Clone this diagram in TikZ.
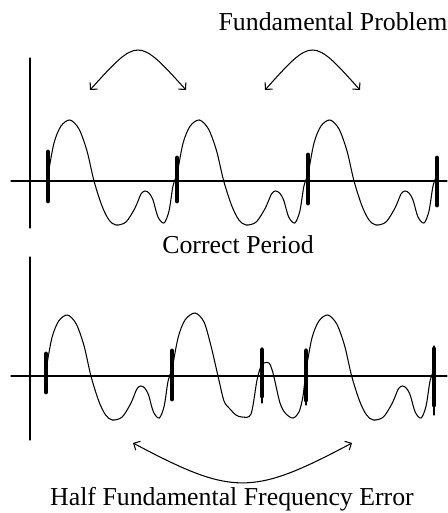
\documentclass[tikz,border=0pt]{standalone}
\usepackage{fontspec}
\setmainfont{Liberation Serif}
\usetikzlibrary{arrows.meta}
\tikzset{>={Straight Barb[length=1mm,width=2mm]}}
\tikzset{
  Axis/.style={line width=0.6pt},
  Wave/.style={line width=0.6pt},
  PitchMark/.style={line width=2.8pt},
  Stem/.style={line width=0.6pt},
  Span/.style={line width=0.6pt, <->},
  Caption/.style={font=\fontsize{14.7}{17}\selectfont, inner sep=0pt, anchor=base}
}

\begin{document}
\begin{tikzpicture}[x=0.02cm, y=-0.02cm, line cap=round]
  \useasboundingbox (0,0) rectangle (447,513);
  \def\TopAxis{181}
  \def\LowAxis{376}

  % axes
  \draw[Axis] (30,58) -- (30,228);
  \draw[Axis] (11,\TopAxis) -- (447,\TopAxis);
  \draw[Axis] (30,257) -- (30,440);
  \draw[Axis] (11,\LowAxis) -- (447,\LowAxis);

  % waveform, one period at a time (start/axis/length)
  \foreach \xo/\yo/\per in {48/\TopAxis/129, 177/\TopAxis/131, 308/\TopAxis/129,
                            46/\LowAxis/126, 306/\LowAxis/128}
    \draw[Wave, shift={(\xo,\yo)}, xscale=\per/129] plot[smooth, tension=0.5] coordinates {
      (0,-6) (6,-38) (13,-55) (22,-61) (31,-52) (39,-30) (46,0) (54,25) (61,39) (68,44)
      (78,41) (87,27) (93,13) (97,10) (101,12) (105,19) (110,36) (116,42) (121,30)
      (125,5) (129,-6)};
  \draw[Wave, shift={(172,\LowAxis)}] plot[smooth, tension=0.5] coordinates {
      (0,-6) (6,-38) (13,-56) (23,-63) (32,-54) (39,-30) (46,0) (52,25) (58,33) (64,39)
      (70,41) (79,38) (85,4) (89,-10) (92,-13) (97,-13) (101,-3) (108,27) (114,38)
      (121,42) (127,36) (131,20) (134,-6)};

  % pitch marks
  \draw[PitchMark] (48,152) -- (48,201);
  \draw[PitchMark] (177,158) -- (177,201);
  \draw[PitchMark] (308,155) -- (308,203);
  \draw[PitchMark] (437,158) -- (437,205);

  \draw[Stem] (262,348) -- (262,403);
  \draw[Stem] (306,349) -- (306,405);
  \draw[Stem] (434,346) -- (434,415);
  \draw[PitchMark] (46,354) -- (46,392);
  \draw[PitchMark] (172,351) -- (172,399);
  \draw[PitchMark] (262,350) -- (262,396);
  \draw[PitchMark] (306,351) -- (306,400);
  \draw[PitchMark] (434,349) -- (434,405);

  % period spans
  \coordinate (s1a) at (90,90);
  \coordinate (s1b) at (186,90);
  \coordinate (s2a) at (265,90);
  \coordinate (s2b) at (360,90);
  \coordinate (s3a) at (133,443);
  \coordinate (s3b) at (352,443);
  \draw[Span] (s1a) .. controls (138,37) .. (s1b);
  \draw[Span] (s2a) .. controls (312.5,37) .. (s2b);
  \draw[Span] (s3a) .. controls (233,496) and (252,496) .. (s3b);

  % captions
  \node[Caption] (fund) at (333,31) {Fundamental Problem};
  \node[Caption] (corr) at (238,253) {Correct Period};
  \node[Caption] (half) at (232,505) {Half Fundamental Frequency Error};
\end{tikzpicture}
\end{document}
